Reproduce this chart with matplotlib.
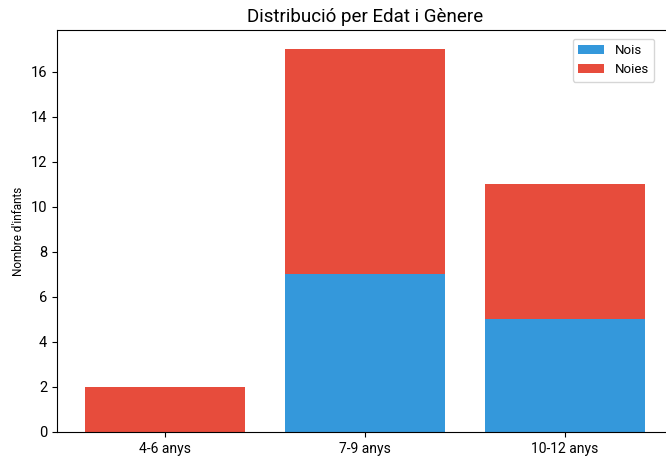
import matplotlib
matplotlib.use("Agg")
import matplotlib.pyplot as plt
import numpy as np

plt.rcParams['font.family'] = ['Roboto', 'DejaVu Sans']

categories = ["4-6 anys", "7-9 anys", "10-12 anys"]
nois = [0, 7, 5]
noies = [2, 10, 6]

fig = plt.figure(figsize=(6.66, 4.59), dpi=100)
ax = fig.add_axes([0.0856, 0.059, 0.925, 0.876])

x = np.arange(len(categories))
ax.bar(x, nois, width=0.8, color="#3498db", label="Nois")
ax.bar(x, noies, width=0.8, bottom=nois, color="#e74c3c", label="Noies")

ax.set_xticks(x)
ax.set_xticklabels(categories, fontsize=10)
ax.set_yticks(np.arange(0, 17, 2))
ax.tick_params(axis='y', labelsize=10.5)
ax.set_ylabel("Nombre d'infants", fontsize=8.5)
ax.set_title("Distribució per Edat i Gènere", fontsize=13.5)
ax.legend(loc="upper right", fontsize=9.5,
          bbox_to_anchor=(661 / 666, 1 - 32 / 459),
          bbox_transform=fig.transFigure)

fig.savefig("out.png", dpi=100)
